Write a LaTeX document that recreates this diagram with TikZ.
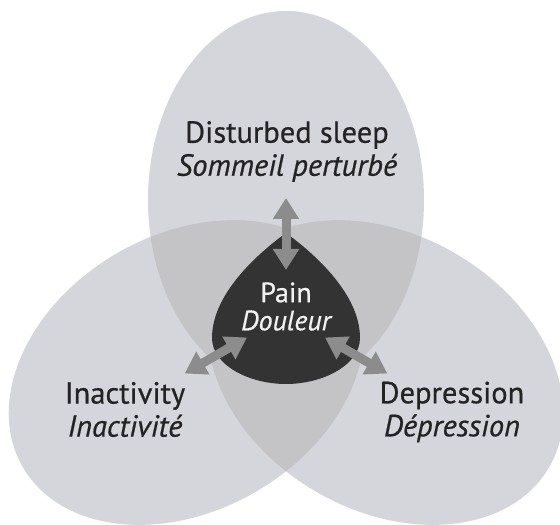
\documentclass[tikz,border=0pt]{standalone}
\usepackage{fontspec}
\setmainfont{PT Sans}[FakeBold=0.6]
\usepackage{xcolor}
\definecolor{LobeGray}{HTML}{D5D5DC}
\definecolor{OverlapGray}{HTML}{C4C4C7}
\definecolor{CoreDark}{HTML}{333333}
\definecolor{ArrowGray}{HTML}{8C8C8C}
\definecolor{InkDark}{HTML}{232323}
\usepackage{tikz}
\usetikzlibrary{arrows.meta}

\begin{document}
\begin{tikzpicture}[x=1pt, y=1pt,
  lobe/.style={fill=LobeGray},
  overlap/.style={fill=OverlapGray},
  twoway/.style={{Triangle[width=25pt,length=21pt]}-{Triangle[width=25pt,length=21pt]}, line width=9pt, draw=ArrowGray},
  every node/.style={font=\fontsize{30.5}{33}\selectfont, text=InkDark, align=center}]
  \useasboundingbox (0,0) rectangle (560,525);
  \fill[white] (0,0) rectangle (560,525);
  \coordinate (c) at (286,210);
  % three lobes, then their overlaps
  \foreach \r in {0,120,240}
    \fill[lobe, rotate around={\r:(c)}] (286,325) ellipse [x radius=138, y radius=189];
  \foreach \r/\s in {0/120,120/240,240/0} {
    \begin{scope}
      \clip[rotate around={\r:(c)}] (286,325) ellipse [x radius=138, y radius=189];
      \fill[overlap, rotate around={\s:(c)}] (286,325) ellipse [x radius=138, y radius=189];
    \end{scope}
  }
  % dark core
  \fill[CoreDark] (286,292) .. controls (264,276) and (212,234) .. (212,187)
    .. controls (212,160) and (249,141) .. (286,141)
    .. controls (323,141) and (360,160) .. (360,187)
    .. controls (360,234) and (308,276) .. (286,292) -- cycle;
  \foreach \a in {90,210,330}
    \draw[twoway] ([shift={(\a:45)}]c) -- ([shift={(\a:117)}]c);
  \node[text=white!95!black, font=\fontsize{28}{28}\selectfont] (pain) at (286,218.5) {Pain\\\itshape Douleur};
  \node (sleep) at (287,373.5) {Disturbed sleep\\\itshape Sommeil perturbé};
  \node (inactivity) at (125,115.5) {Inactivity\\\itshape Inactivité};
  \node (depression) at (452,113) {Depression\\\itshape Dépression};
\end{tikzpicture}
\end{document}
